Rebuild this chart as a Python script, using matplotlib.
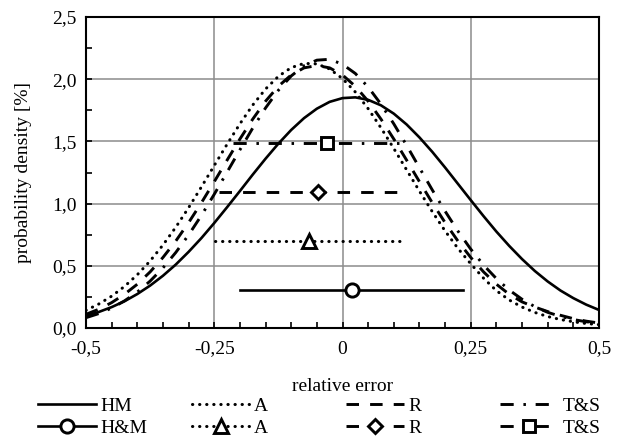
import matplotlib
matplotlib.use("Agg")
import matplotlib.pyplot as plt
from matplotlib.lines import Line2D
from matplotlib.ticker import MultipleLocator

plt.rcParams['font.family'] = ['Liberation Serif', 'DejaVu Serif']
plt.rcParams['font.size'] = 14
plt.rcParams['lines.scale_dashes'] = False

# relative error grid the densities were read at
x_pts = [-0.5, -0.475, -0.45, -0.425, -0.4, -0.375, -0.35, -0.325, -0.3, -0.275,
         -0.25, -0.225, -0.2, -0.175, -0.15, -0.125, -0.1, -0.075, -0.05, -0.025,
         0.0, 0.025, 0.05, 0.075, 0.1, 0.125, 0.15, 0.175, 0.2, 0.225,
         0.25, 0.275, 0.3, 0.325, 0.35, 0.375, 0.4, 0.425, 0.45, 0.475, 0.5]

# probability density [%]
hm = [0.098, 0.129, 0.168, 0.215, 0.273, 0.341, 0.420, 0.510, 0.612, 0.723,
      0.844, 0.971, 1.101, 1.233, 1.361, 1.482, 1.592, 1.687, 1.763, 1.818,
      1.848, 1.854, 1.834, 1.790, 1.723, 1.636, 1.532, 1.416, 1.290, 1.159,
      1.028, 0.899, 0.775, 0.660, 0.554, 0.458, 0.374, 0.301, 0.240, 0.188, 0.145]
a = [0.142, 0.193, 0.256, 0.334, 0.428, 0.539, 0.667, 0.810, 0.967, 1.134,
     1.306, 1.477, 1.641, 1.792, 1.921, 2.023, 2.093, 2.127, 2.123, 2.082,
     2.005, 1.897, 1.763, 1.609, 1.443, 1.271, 1.100, 0.935, 0.780, 0.640,
     0.516, 0.400, 0.300, 0.225, 0.168, 0.125, 0.092, 0.068, 0.050, 0.036, 0.027]
r = [0.110, 0.151, 0.204, 0.271, 0.352, 0.451, 0.567, 0.699, 0.847, 1.007,
     1.176, 1.349, 1.519, 1.679, 1.823, 1.943, 2.034, 2.091, 2.110, 2.091,
     2.034, 1.943, 1.823, 1.679, 1.519, 1.349, 1.176, 1.007, 0.847, 0.699,
     0.567, 0.451, 0.352, 0.271, 0.210, 0.168, 0.132, 0.102, 0.075, 0.055, 0.040]
ts = [0.083, 0.116, 0.160, 0.218, 0.289, 0.377, 0.483, 0.607, 0.748, 0.905,
      1.075, 1.253, 1.432, 1.607, 1.769, 1.911, 2.026, 2.108, 2.153, 2.160,
      2.120, 2.046, 1.937, 1.799, 1.641, 1.468, 1.288, 1.110, 0.939, 0.779,
      0.634, 0.506, 0.397, 0.305, 0.231, 0.171, 0.126, 0.093, 0.068, 0.050, 0.038]

curve_names = ['HM', 'A', 'R', 'T&S']
band_names = ['H&M', 'A', 'R', 'T&S']
band_level = [0.305, 0.70, 1.095, 1.49]
band_lo = [-0.199, -0.248, -0.240, -0.214]
band_hi = [0.234, 0.117, 0.122, 0.128]
band_mid = [0.018, -0.066, -0.047, -0.030]

x_ticks = [-0.5, -0.25, 0, 0.25, 0.5]
x_labels = ['-0,5', '-0,25', '0', '0,25', '0,5']
y_ticks = [0, 0.5, 1.0, 1.5, 2.0, 2.5]
y_labels = ['0,0', '0,5', '1,0', '1,5', '2,0', '2,5']

styles = [
    dict(linestyle='-', lw=1.9),
    dict(linestyle=(0, (0.2, 4.9)), lw=2.2, dash_capstyle='round'),
    dict(linestyle=(0, (9, 8)), lw=2.1, dash_capstyle='butt'),
    dict(linestyle=(0, (9.5, 7, 1.8, 7)), lw=2.1, dash_capstyle='butt'),
]
markers = [dict(marker='o', ms=9.5), dict(marker='^', ms=9.5),
           dict(marker='D', ms=7.0), dict(marker='s', ms=9.0)]

fig = plt.figure(figsize=(6.19, 4.38), dpi=100)
ax = fig.add_axes([86 / 619, 1 - 328 / 438, 513 / 619, 311 / 438])

curves = [hm, a, r, ts]
for ys, st in zip(curves, styles):
    ax.plot(x_pts, ys, color='black', **st)

for i in range(4):
    ax.plot([band_lo[i], band_hi[i]], [band_level[i], band_level[i]],
            color='black', **styles[i])
    ax.plot([band_mid[i]], [band_level[i]], color='black', mfc='white',
            mec='black', mew=2.1, linestyle='none', **markers[i])

ax.set_xlim(-0.5, 0.5)
ax.set_ylim(0, 2.5)
ax.set_xticks(x_ticks)
ax.set_xticklabels(x_labels)
ax.set_yticks(y_ticks)
ax.set_yticklabels(y_labels)
ax.xaxis.set_minor_locator(MultipleLocator(0.05))
ax.yaxis.set_minor_locator(MultipleLocator(0.25))
ax.tick_params(which='both', direction='in', length=4, width=1.2,
               top=False, right=False, colors='black')
ax.tick_params(axis='x', pad=9)
ax.tick_params(axis='y', pad=7)
ax.grid(True, which='major', color='#8c8c8c', lw=1.1)
ax.set_axisbelow(True)
for sp in ax.spines.values():
    sp.set_linewidth(1.5)
    sp.set_color('black')

ax.set_xlabel('relative error', labelpad=15)
ax.set_ylabel('probability density [%]')
ax.yaxis.set_label_coords(-0.105, 0.5)

# legend: four columns with equal spacing, lines on top row, bands below
col_x = [38, 192, 346, 500]
for i in range(4):
    h_curve = Line2D([], [], color='black', **styles[i])
    h_band = Line2D([], [], color='black', mfc='white', mec='black', mew=2.1,
                    **styles[i], **markers[i])
    fig.legend([h_curve, h_band], [curve_names[i], band_names[i]],
               loc='center left', bbox_to_anchor=(col_x[i] / 619, 1 - 417 / 438),
               frameon=False, borderpad=0, borderaxespad=0, handlelength=3.0,
               handletextpad=0.2, labelspacing=0.2, numpoints=1)

fig.savefig('out.png', dpi=100)
